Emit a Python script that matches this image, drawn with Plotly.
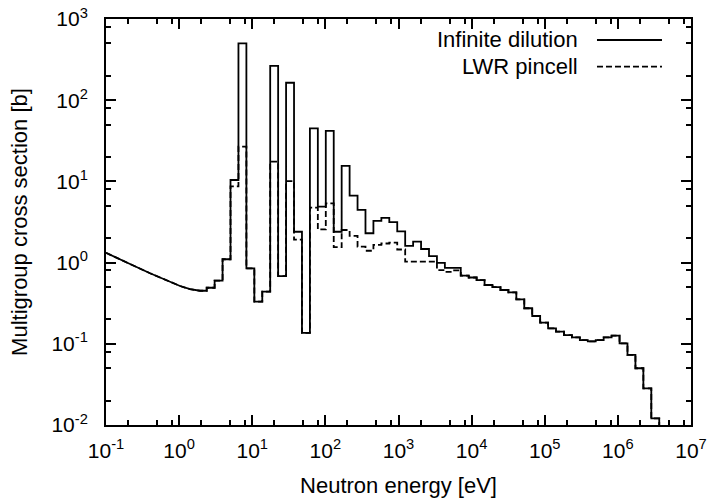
import plotly.graph_objects as go

# ---- data ----
# smooth low-energy part (energy eV, cross section b), same for both
smooth_E = [0.1, 0.155, 0.236, 0.40, 0.676, 1.03, 1.41, 1.93, 2.382]
smooth_xs = [1.32, 1.11, 0.92, 0.74, 0.60, 0.515, 0.47, 0.45, 0.45]

# multigroup bin edges (eV), ascending
edges = [2.382, 3.059, 3.928, 5.043, 6.476, 8.315, 10.68, 13.71, 17.60, 22.60,
         29.02, 37.27, 47.85, 61.44, 78.89, 101.3, 130.1, 167.0, 214.5, 275.4,
         353.6, 454.0, 583.0, 748.6, 961.2, 1234, 1585, 2035, 2613, 3355,
         4307, 5531, 7102, 9119, 11710, 15030, 19300, 24790, 31830, 40870,
         52480, 67380, 86520, 111100, 142600, 183200, 235200, 302000, 387700, 497900,
         639300, 820800, 1054000, 1353000, 1738000, 2231000, 2865000, 3679000, 10000000]

infinite_dilution = [0.49, 0.60, 1.10, 10.4, 500, 0.85, 0.33, 0.44, 264, 0.68,
                     164, 2.4, 0.136, 45, 4.9, 42, 2.4, 15.5, 6.67, 4.45,
                     2.3, 3.27, 3.55, 3.15, 2.42, 1.61, 1.81, 1.47, 1.20, 0.99,
                     0.86, 0.86, 0.69, 0.655, 0.61, 0.53, 0.50, 0.46, 0.43, 0.353,
                     0.274, 0.22, 0.182, 0.155, 0.141, 0.128, 0.12, 0.111, 0.107, 0.111,
                     0.12, 0.126, 0.101, 0.073, 0.050, 0.0283, 0.0121, 0.005]

lwr_pincell = [0.49, 0.60, 1.10, 8.7, 26.8, 0.85, 0.33, 0.44, 17.5, 0.68,
               10.1, 1.92, 0.136, 4.75, 2.56, 5.35, 1.55, 2.52, 2.13, 1.57,
               1.40, 1.65, 1.72, 1.76, 1.45, 1.03, 1.03, 1.03, 1.03, 0.81,
               0.77, 0.80, 0.69, 0.655, 0.61, 0.53, 0.50, 0.46, 0.43, 0.353,
               0.274, 0.22, 0.182, 0.155, 0.141, 0.128, 0.12, 0.111, 0.107, 0.111,
               0.12, 0.126, 0.101, 0.073, 0.050, 0.0283, 0.0121, 0.005]

x_tickvals = [1e-1, 1e0, 1e1, 1e2, 1e3, 1e4, 1e5, 1e6, 1e7]
x_ticktext = ["10<sup>-1</sup>", "10<sup>0</sup>", "10<sup>1</sup>", "10<sup>2</sup>",
              "10<sup>3</sup>", "10<sup>4</sup>", "10<sup>5</sup>", "10<sup>6</sup>",
              "10<sup>7</sup>"]
y_tickvals = [1e-2, 1e-1, 1e0, 1e1, 1e2, 1e3]
y_ticktext = ["10<sup>-2</sup>", "10<sup>-1</sup>", "10<sup>0</sup>", "10<sup>1</sup>",
              "10<sup>2</sup>", "10<sup>3</sup>"]
minor_mult = [2, 5, 8]

series_names = ["Infinite dilution", "LWR pincell"]


def step_path(values):
    xs = list(smooth_E)
    ys = list(smooth_xs)
    for i, v in enumerate(values):
        xs += [edges[i], edges[i + 1]]
        ys += [v, v]
    return xs, ys


FONT = "Liberation Sans, Arial, sans-serif"
fig = go.Figure()
for name, vals, dash in [(series_names[1], lwr_pincell, "6px,3px"),
                         (series_names[0], infinite_dilution, "solid")]:
    xs, ys = step_path(vals)
    fig.add_trace(go.Scatter(x=xs, y=ys, mode="lines", name=name, showlegend=False,
                             line=dict(color="black", width=1.8, dash=dash)))

x_minor = [m * 10 ** e for e in range(-1, 7) for m in minor_mult]
y_minor = [m * 10 ** e for e in range(-2, 3) for m in minor_mult]

axis_common = dict(showline=True, linecolor="black", linewidth=2, mirror="allticks",
                   ticks="inside", ticklen=10, tickwidth=1.5, tickcolor="black",
                   showgrid=False, zeroline=False, tickmode="array",
                   tickfont=dict(family=FONT, size=21, color="black"))

fig.update_xaxes(type="log", range=[-1, 7], tickvals=x_tickvals, ticktext=x_ticktext,
                 minor=dict(ticks="inside", ticklen=5, tickwidth=1.5, tickcolor="black",
                            tickvals=x_minor, showgrid=False),
                 title=dict(text="Neutron energy [eV]", font=dict(family=FONT, size=22, color="black"),
                            standoff=16),
                 ticklabelstandoff=6, **axis_common)
fig.update_yaxes(type="log", range=[-2, 3], tickvals=y_tickvals, ticktext=y_ticktext,
                 minor=dict(ticks="inside", ticklen=5, tickwidth=1.5, tickcolor="black",
                            tickvals=y_minor, showgrid=False),
                 title=dict(text="Multigroup cross section [b]", font=dict(family=FONT, size=22, color="black"),
                            standoff=18),
                 ticklabelstandoff=12, **axis_common)

# manual gnuplot-style key (text left, sample right)
key_rows = [(0.9483, "solid"), (0.8825, "6px,3px")]
for (yk, dash), name in zip(key_rows, series_names):
    fig.add_annotation(x=0.8103, y=yk, xref="paper", yref="paper", text=name,
                       showarrow=False, xanchor="right", yanchor="middle",
                       font=dict(family=FONT, size=22, color="black"))
    fig.add_shape(type="line", xref="paper", yref="paper", x0=0.8393, x1=0.9504,
                  y0=yk, y1=yk, line=dict(color="black", width=1.8, dash=dash))

fig.update_layout(width=708, height=504, margin=dict(l=106, r=17, t=19, b=79, autoexpand=False),
                  plot_bgcolor="white", paper_bgcolor="white",
                  font=dict(family=FONT, size=21, color="black"))

fig.write_html("out.html")
